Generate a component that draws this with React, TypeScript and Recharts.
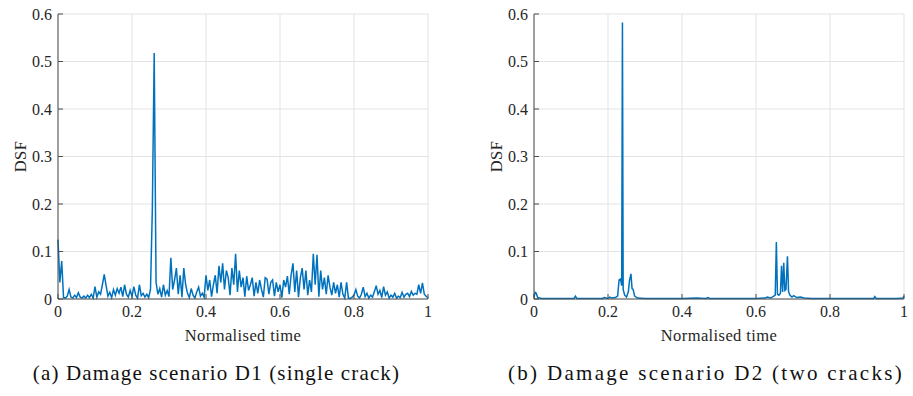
import { LineChart, Line, XAxis, YAxis, CartesianGrid } from "recharts";

// Damage scenario D1: uniformly sampled DSF, step 0.005 in normalised time
const d1Values = [
  0.125, 0.035, 0.08, 0.003, 0.002, 0.006, 0.02, 0.004, 0.002, 0.008,
  0.003, 0.013, 0.004, 0.002, 0.006, 0.002, 0.008, 0.003, 0.01, 0.002,
  0.026, 0.004, 0.015, 0.01, 0.03, 0.052, 0.028, 0.006, 0.014, 0.003,
  0.02, 0.008, 0.022, 0.012, 0.025, 0.005, 0.03, 0.01, 0.004, 0.018,
  0.006, 0.026, 0.008, 0.002, 0.03, 0.007, 0.012, 0.004, 0.01, 0.003,
  0.02, 0.19, 0.518, 0.035, 0.01, 0.022, 0.004, 0.03, 0.008, 0.018,
  0.005, 0.087, 0.02, 0.04, 0.065, 0.01, 0.05, 0.004, 0.065, 0.03,
  0.012, 0.003, 0.022, 0.008, 0.002, 0.015, 0.025, 0.006, 0.012, 0.004,
  0.05, 0.018, 0.04, 0.005, 0.03, 0.05, 0.012, 0.07, 0.035, 0.075,
  0.02, 0.06, 0.045, 0.008, 0.065, 0.03, 0.095, 0.015, 0.06, 0.025,
  0.045, 0.005, 0.048, 0.018, 0.03, 0.045, 0.006, 0.035, 0.012, 0.04,
  0.02, 0.004, 0.045, 0.042, 0.01, 0.035, 0.04, 0.006, 0.035, 0.015,
  0.03, 0.003, 0.04, 0.025, 0.048, 0.01, 0.05, 0.075, 0.015, 0.06,
  0.004, 0.045, 0.065, 0.02, 0.06, 0.008, 0.04, 0.015, 0.095, 0.03,
  0.093, 0.005, 0.06, 0.02, 0.045, 0.01, 0.05, 0.025, 0.008, 0.035,
  0.012, 0.03, 0.004, 0.035, 0.01, 0.002, 0.035, 0.002, 0.001, 0.004,
  0.008, 0.02, 0.006, 0.002, 0.01, 0.025, 0.005, 0.012, 0.002, 0.008,
  0.004, 0.015, 0.028, 0.01, 0.018, 0.003, 0.026, 0.008, 0.015, 0.002,
  0.008, 0.004, 0.012, 0.002, 0.006, 0.003, 0.014, 0.004, 0.01, 0.012,
  0.005, 0.016, 0.008, 0.012, 0.01, 0.03, 0.012, 0.034, 0.01, 0.006,
  0.002,
];
const d1Time = d1Values.map((_, i) => i / (d1Values.length - 1));

const d2Time = [
  0, 0.003, 0.006, 0.01, 0.02, 0.05, 0.08, 0.108, 0.112, 0.116,
  0.15, 0.185, 0.19, 0.2, 0.205, 0.21, 0.22, 0.226, 0.23, 0.234,
  0.237, 0.239, 0.241, 0.245, 0.25, 0.255, 0.258, 0.262, 0.265, 0.268,
  0.272, 0.28, 0.3, 0.35, 0.4, 0.44, 0.465, 0.47, 0.475, 0.5,
  0.55, 0.6, 0.625, 0.63, 0.64, 0.648, 0.652, 0.655, 0.658, 0.662,
  0.666, 0.669, 0.672, 0.675, 0.678, 0.681, 0.685, 0.688, 0.692, 0.697,
  0.702, 0.71, 0.72, 0.73, 0.75, 0.8, 0.85, 0.9, 0.918, 0.921,
  0.925, 0.95, 0.98, 0.997, 1.0,
];
const d2Values = [
  0.004, 0.014, 0.012, 0.003, 0.001, 0.001, 0.001, 0.001, 0.006, 0.001,
  0.001, 0.001, 0.003, 0.001, 0.004, 0.002, 0.003, 0.006, 0.04, 0.042,
  0.028, 0.582, 0.02, 0.008, 0.004, 0.015, 0.038, 0.053, 0.022, 0.02,
  0.006, 0.002, 0.001, 0.001, 0.001, 0.002, 0.001, 0.003, 0.001, 0.001,
  0.001, 0.001, 0.002, 0.004, 0.002, 0.006, 0.008, 0.12, 0.01, 0.008,
  0.012, 0.07, 0.015, 0.076, 0.018, 0.02, 0.09, 0.015, 0.008, 0.004,
  0.007, 0.003, 0.004, 0.002, 0.001, 0.001, 0.001, 0.001, 0.001, 0.005,
  0.001, 0.001, 0.001, 0.002, 0.006,
];

const xTicks = [0, 0.2, 0.4, 0.6, 0.8, 1];
const yTicks = [0, 0.1, 0.2, 0.3, 0.4, 0.5, 0.6];

const captionA = "(a) Damage scenario D1 (single crack)";
const captionB = "(b) Damage scenario D2 (two cracks)";

const serif = "Liberation Serif";
const frame = "#4d4d4d";
const blue = "#0072BD";

const tickStyle = { fontSize: 16, fill: "#262626", fontFamily: serif };
const labelStyle = { fontSize: 16.5, fill: "#262626", fontFamily: serif, letterSpacing: 0.4 };

function DsfPanel({
  time,
  values,
  caption,
  left,
  capWidth,
  capSpacing,
}: {
  time: number[];
  values: number[];
  caption: string;
  left: number;
  capWidth: number;
  capSpacing: number;
}) {
  const rows = time.map((t, i) => ({ t, dsf: values[i] }));
  return (
    <div style={{ position: "absolute", left, top: 0, width: 440, height: 396 }}>
      <LineChart width={440} height={345} data={rows} margin={{ top: 14, right: 12, left: 0, bottom: 0 }}>
        <CartesianGrid stroke="#e3e3e3" strokeWidth={1} horizontalValues={yTicks} verticalValues={xTicks} />
        <XAxis
          dataKey="t"
          type="number"
          domain={[0, 1]}
          ticks={xTicks}
          height={46}
          tickSize={-5}
          tickMargin={12}
          tick={tickStyle}
          axisLine={{ stroke: frame }}
          tickLine={{ stroke: frame }}
          label={{ value: "Normalised time", position: "insideBottom", offset: 4, style: labelStyle }}
        />
        <XAxis
          xAxisId="top"
          orientation="top"
          dataKey="t"
          type="number"
          domain={[0, 1]}
          ticks={xTicks}
          height={0}
          tickSize={-5}
          tick={() => <g />}
          axisLine={{ stroke: frame }}
          tickLine={{ stroke: frame }}
        />
        <YAxis
          type="number"
          domain={[0, 0.6]}
          ticks={yTicks}
          width={58}
          tickSize={-5}
          tickMargin={11}
          tick={tickStyle}
          axisLine={{ stroke: frame }}
          tickLine={{ stroke: frame }}
          label={{ value: "DSF", angle: -90, position: "insideLeft", offset: 20, style: { ...labelStyle, textAnchor: "middle" } }}
        />
        <YAxis
          yAxisId="right"
          orientation="right"
          type="number"
          domain={[0, 0.6]}
          ticks={yTicks}
          width={0}
          tickSize={-5}
          tick={() => <g />}
          axisLine={{ stroke: frame }}
          tickLine={{ stroke: frame }}
        />
        <Line type="linear" dataKey="dsf" stroke={blue} strokeWidth={1.5} dot={false} isAnimationActive={false} />
      </LineChart>
      <div
        style={{
          position: "absolute",
          left: 0,
          width: capWidth,
          top: 361,
          textAlign: "center",
          fontFamily: serif,
          fontSize: 21,
          letterSpacing: capSpacing,
          color: "#111",
          whiteSpace: "nowrap",
        }}
      >
        {caption}
      </div>
    </div>
  );
}

export default function App() {
  return (
    <div style={{ position: "absolute", left: 0, top: 0, width: 913, height: 396, background: "#fff" }}>
      <DsfPanel time={d1Time} values={d1Values} caption={captionA} left={0} capWidth={433} capSpacing={1.15} />
      <DsfPanel time={d2Time} values={d2Values} caption={captionB} left={476} capWidth={460} capSpacing={2.3} />
    </div>
  );
}
